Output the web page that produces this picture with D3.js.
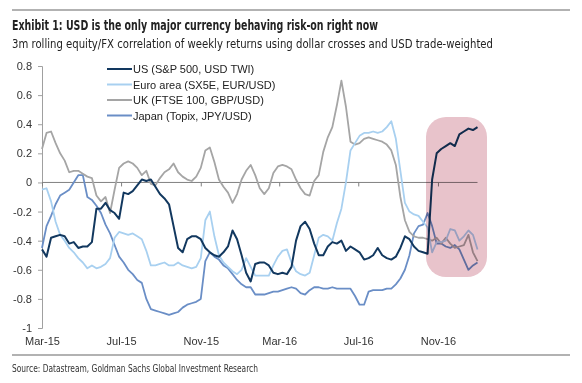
<!DOCTYPE html>
<html lang="en">
<head>
<meta charset="UTF-8">
<title>USD risk-on correlation</title>
<script src="https://d3js.org/d3.v7.min.js"></script>
<style>
  body { margin: 0; background: #fff; }
  svg { display: block; font-family: 'Liberation Sans', Arial, sans-serif; }
  .axis text { font-size: 11px; fill: #333; }
  .legend text { font-size: 11px; fill: #222; }
  .title { font-family: 'DejaVu Sans Condensed', 'Liberation Sans Narrow', sans-serif; font-weight: bold; font-size: 14px; fill: #222; }
  .sub { font-family: 'DejaVu Sans Condensed', 'Liberation Sans Narrow', sans-serif; font-size: 12.5px; fill: #222; }
  .source { font-family: 'DejaVu Sans Condensed', 'Liberation Sans Narrow', sans-serif; font-size: 10.5px; fill: #333; }
</style>
</head>
<body>
<svg id="chart" width="582" height="383"></svg>
<script>
// weekly observations, Mar-2015 .. end of 2016
const weeks = d3.timeWeek.range(new Date(2015, 2, 1), new Date(2017, 0, 2));

const seriesNames = ["US (S&P 500, USD TWI)", "Euro area (SX5E, EUR/USD)", "UK (FTSE 100, GBP/USD)", "Japan (Topix, JPY/USD)"];

const usVals = [
  -0.46, -0.51, -0.38, -0.37, -0.36, -0.37, -0.42, -0.41, -0.45, -0.44,
  -0.44, -0.41, -0.18, -0.18, -0.14, -0.19, -0.21, -0.25, -0.07, -0.08,
  -0.06, -0.02, 0.02, 0.01, 0.02, -0.03, -0.08, -0.11, -0.15, -0.30,
  -0.45, -0.48, -0.39, -0.37, -0.37, -0.39, -0.45, -0.48, -0.50, -0.51,
  -0.48, -0.44, -0.33, -0.39, -0.50, -0.62, -0.68, -0.56, -0.55, -0.55,
  -0.57, -0.62, -0.63, -0.62, -0.63, -0.58, -0.40, -0.30, -0.27, -0.32,
  -0.42, -0.50, -0.50, -0.44, -0.41, -0.42, -0.40, -0.47, -0.44, -0.46,
  -0.48, -0.53, -0.52, -0.50, -0.45, -0.50, -0.52, -0.53, -0.51, -0.45,
  -0.37, -0.39, -0.44, -0.47, -0.48, -0.49, 0.02, 0.20, 0.23, 0.25,
  0.27, 0.25, 0.33, 0.35, 0.37, 0.36, 0.38
];
const euroVals = [
  -0.05, -0.04, -0.13, -0.27, -0.36, -0.40, -0.45, -0.48, -0.52, -0.55,
  -0.59, -0.57, -0.59, -0.58, -0.56, -0.52, -0.38, -0.34, -0.35, -0.36,
  -0.35, -0.37, -0.39, -0.47, -0.57, -0.57, -0.56, -0.55, -0.57, -0.57,
  -0.55, -0.57, -0.58, -0.59, -0.58, -0.52, -0.26, -0.20, -0.37, -0.50,
  -0.55, -0.58, -0.61, -0.63, -0.60, -0.52, -0.58, -0.64, -0.64, -0.64,
  -0.64, -0.57, -0.51, -0.47, -0.46, -0.55, -0.61, -0.63, -0.64, -0.62,
  -0.50, -0.38, -0.36, -0.37, -0.40, -0.28, -0.18, 0.00, 0.22, 0.27,
  0.32, 0.34, 0.34, 0.35, 0.34, 0.35, 0.38, 0.42, 0.30, 0.08,
  -0.14, -0.20, -0.22, -0.23, -0.27, -0.31, -0.48, -0.41, -0.41, -0.40,
  -0.32, -0.33, -0.40, -0.37, -0.33, -0.36, -0.46
];
const ukVals = [
  0.23, 0.34, 0.35, 0.27, 0.20, 0.15, 0.07, 0.08, 0.08, 0.06,
  0.04, 0.03, -0.09, -0.13, -0.10, -0.21, -0.05, 0.10, 0.13, 0.145,
  0.13, 0.10, 0.05, 0.08, -0.01, -0.02, 0.03, 0.07, 0.09, 0.13,
  0.07, 0.04, 0.02, 0.01, 0.04, 0.10, 0.22, 0.24, 0.14, 0.02,
  -0.03, -0.07, -0.14, -0.08, 0.02, 0.08, 0.12, 0.05, -0.04, -0.08,
  -0.04, 0.065, 0.11, 0.12, 0.11, 0.09, 0.02, -0.04, -0.08, -0.09,
  0.01, 0.05, 0.21, 0.31, 0.38, 0.53, 0.70, 0.52, 0.28, 0.26,
  0.27, 0.30, 0.31, 0.30, 0.29, 0.28, 0.26, 0.22, 0.12, -0.10,
  -0.26, -0.34, -0.37, -0.38, -0.38, -0.39, -0.40, -0.38, -0.42, -0.38,
  -0.42, -0.45, -0.44, -0.43, -0.36, -0.48, -0.54
];
const japanVals = [
  -0.45, -0.30, -0.23, -0.15, -0.09, -0.07, -0.05, 0.00, 0.05, 0.05,
  -0.10, -0.12, -0.16, -0.21, -0.29, -0.35, -0.43, -0.51, -0.55, -0.60,
  -0.63, -0.67, -0.69, -0.80, -0.87, -0.88, -0.89, -0.90, -0.91, -0.90,
  -0.89, -0.86, -0.84, -0.83, -0.82, -0.80, -0.54, -0.48, -0.51, -0.53,
  -0.57, -0.59, -0.63, -0.67, -0.70, -0.72, -0.72, -0.77, -0.77, -0.77,
  -0.76, -0.75, -0.75, -0.74, -0.73, -0.72, -0.73, -0.76, -0.77, -0.74,
  -0.72, -0.72, -0.73, -0.73, -0.72, -0.73, -0.73, -0.73, -0.73, -0.78,
  -0.84, -0.84, -0.75, -0.74, -0.74, -0.74, -0.73, -0.73, -0.70, -0.66,
  -0.60, -0.50, -0.35, -0.30, -0.29, -0.21, -0.30, -0.42, -0.42, -0.44,
  -0.45, -0.43, -0.46, -0.53, -0.60, -0.57, -0.55
];

const yTicks = [0.8, 0.6, 0.4, 0.2, 0, -0.2, -0.4, -0.6, -0.8, -1];
const xTicks = ["2015-03-01", "2015-07-01", "2015-11-01", "2016-03-01", "2016-07-01", "2016-11-01"];

const colors = ["#12385f", "#a8d0f0", "#a5a5a5", "#6a8ec6"];
const widths = [2, 1.8, 1.8, 1.8];

const svg = d3.select('#chart');

const x = d3.scaleTime()
    .domain([new Date(2015, 2, 1), new Date(2017, 0, 1)])
    .range([42, 477.5]);
const y = d3.scaleLinear()
    .domain([-1, 0.8])
    .range([328, 66]);

const parse = d3.timeParse('%Y-%m-%d');

// header
svg.append('line').attr('x1', 12).attr('x2', 570).attr('y1', 10).attr('y2', 10)
    .attr('stroke', '#999').attr('stroke-width', 1.5);
svg.append('text').attr('class', 'title').attr('x', 12).attr('y', 30)
    .attr('textLength', 366).attr('lengthAdjust', 'spacingAndGlyphs')
    .text('Exhibit 1: USD is the only major currency behaving risk-on right now');
svg.append('text').attr('class', 'sub').attr('x', 12).attr('y', 48)
    .attr('textLength', 481).attr('lengthAdjust', 'spacingAndGlyphs')
    .text('3m rolling equity/FX correlation of weekly returns using dollar crosses and USD trade-weighted');

// footer
svg.append('line').attr('x1', 12).attr('x2', 570).attr('y1', 355).attr('y2', 355)
    .attr('stroke', '#999').attr('stroke-width', 1.5);
svg.append('text').attr('class', 'source').attr('x', 12).attr('y', 372)
    .attr('textLength', 246).attr('lengthAdjust', 'spacingAndGlyphs')
    .text('Source: Datastream, Goldman Sachs Global Investment Research');

// y axis
const yAxis = d3.axisLeft(y)
    .tickValues(yTicks)
    .tickSize(4)
    .tickPadding(6)
    .tickFormat(d => String(+d.toFixed(1)));
const gy = svg.append('g').attr('class', 'axis').attr('transform', 'translate(42,0)').call(yAxis);
gy.select('.domain').attr('stroke', '#a0a0a0');
gy.selectAll('.tick line').attr('stroke', '#a0a0a0');

// zero line with tick marks
const tickDates = xTicks.map(parse);
const xAxisZero = d3.axisBottom(x).tickValues(tickDates).tickSize(4).tickFormat('');
const gz = svg.append('g').attr('transform', 'translate(0,' + y(0) + ')').call(xAxisZero);
gz.select('.domain').remove();
gz.selectAll('.tick line').attr('stroke', '#808080');
svg.append('line')
    .attr('x1', x.range()[0]).attr('x2', x.range()[1])
    .attr('y1', y(0)).attr('y2', y(0))
    .attr('stroke', '#808080').attr('stroke-width', 1);

// x labels at the bottom
const xAxisLow = d3.axisBottom(x).tickValues(tickDates).tickSize(0).tickPadding(0)
    .tickFormat(d3.timeFormat('%b-%y'));
const gx = svg.append('g').attr('class', 'axis').attr('transform', 'translate(0,337)').call(xAxisLow);
gx.select('.domain').remove();

// series
const allVals = [usVals, euroVals, ukVals, japanVals];
const line = d3.line()
    .x((d, i) => x(weeks[i]))
    .y(d => y(d));

// draw back to front: Japan, UK, Euro, US
[3, 2, 1, 0].forEach(function(k) {
    svg.append('path')
        .datum(allVals[k])
        .attr('fill', 'none')
        .attr('stroke', colors[k])
        .attr('stroke-width', widths[k])
        .attr('stroke-linejoin', 'round')
        .attr('d', line);
});

// highlight box
svg.append('rect')
    .attr('x', 426).attr('y', 117)
    .attr('width', 61).attr('height', 160)
    .attr('rx', 20).attr('ry', 20)
    .attr('fill', '#e8c3cb')
    .style('mix-blend-mode', 'multiply');

// legend
const legend = svg.append('g').attr('class', 'legend');
seriesNames.forEach(function(name, i) {
    const ly = 69 + i * 15.5;
    legend.append('line')
        .attr('x1', 107).attr('x2', 132)
        .attr('y1', ly).attr('y2', ly)
        .attr('stroke', colors[i]).attr('stroke-width', 2);
    legend.append('text')
        .attr('x', 133).attr('y', ly + 4)
        .text(name);
});
</script>
</body>
</html>
